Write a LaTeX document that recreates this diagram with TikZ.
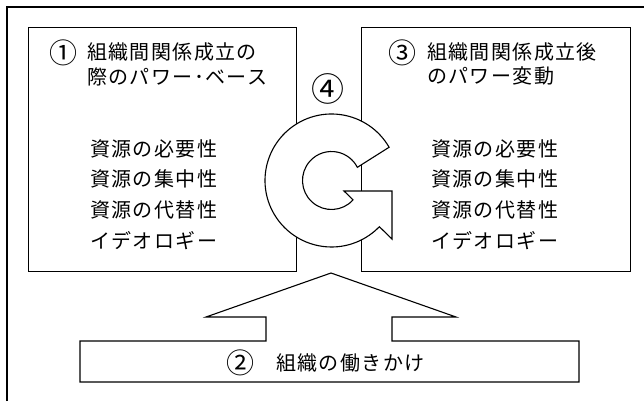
\documentclass[tikz,border=0pt]{standalone}
\usepackage{fontspec}
\newfontfamily\cjk[LetterSpace=7]{Noto Sans CJK JP}
\newfontfamily\cjknum{Noto Sans CJK JP}
\begin{document}
\begin{tikzpicture}[x=1bp,y=1bp,
  frame/.style={line width=1.6bp},
  boxline/.style={draw, line width=1.4bp, inner sep=0pt, anchor=south west},
  shapeline/.style={line width=1.1bp, fill=white},
  txt/.style={font=\cjk\fontsize{20bp}{24bp}\selectfont, inner sep=0pt, anchor=west, text height=17.6bp, text depth=2.4bp},
  num/.style={font=\cjknum\fontsize{28bp}{30bp}\selectfont, inner sep=0pt, anchor=center}]
\useasboundingbox (0,0) rectangle (644,401);
% outer frame (only top and left visible)
\draw[frame] (7,0) -- (7,394) -- (644,394);
% boxes
\node (lbox) [boxline, minimum width=268bp, minimum height=244bp] at (28,129) {};
\node (rbox) [boxline, minimum width=269bp, minimum height=244bp] at (361,129) {};
% bottom arrow
\draw[shapeline] (80,60) -- (266,60) -- (266,84) -- (206,84) -- (331,128) -- (456,84)
  -- (392,84) -- (392,60) -- (579,60) -- (579,19) -- (80,19) -- cycle;
% circular arrow
\draw[shapeline] (389.1,253.75) arc[start angle=30, end angle=316, radius=66.5]
  -- (392,162) -- (392,210) -- (344,210) -- (353.05,201.1)
  arc[start angle=318, end angle=27, radius=29] -- cycle;
% left box text
\node[num] (n1) at (63.5,348) {①};
\node[txt] (l1a) at (87,349) {組織間関係成立の};
\node[txt] (l1b) at (87,324) {際のパワー･ベース};
\node[txt] (l2) at (90,252) {資源の必要性};
\node[txt] (l3) at (90,222) {資源の集中性};
\node[txt] (l4) at (90,191) {資源の代替性};
\node[txt] (l5) at (90,160) {イデオロギー};
% right box text
\node[num] (n3) at (402.5,348) {③};
\node[txt] (r1a) at (427,349) {組織間関係成立後};
\node[txt] (r1b) at (427,325) {のパワー変動};
\node[txt] (r2) at (431,252) {資源の必要性};
\node[txt] (r3) at (431,222) {資源の集中性};
\node[txt] (r4) at (431,191) {資源の代替性};
\node[txt] (r5) at (431,160) {イデオロギー};
% circled 4
\node[num, font=\cjknum\fontsize{33bp}{35bp}\selectfont] (n4) at (328,312) {④};
% bottom text
\node[num] (n2) at (240.5,38) {②};
\node[txt] (b1) at (276,38) {組織の働きかけ};
\end{tikzpicture}
\end{document}
